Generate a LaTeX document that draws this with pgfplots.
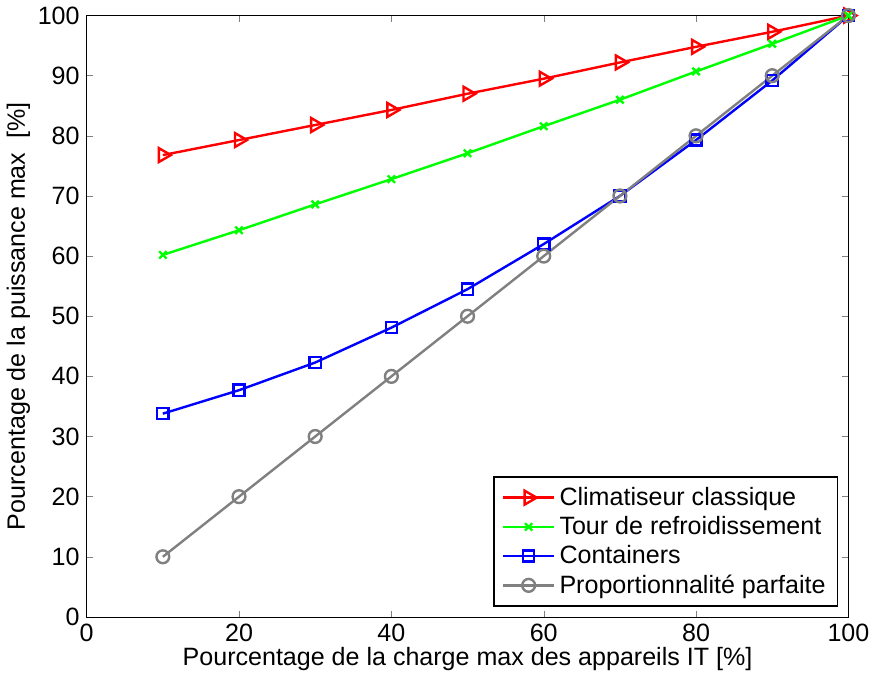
\documentclass[border=0pt]{standalone}
\usepackage{pgfplots}
\pgfplotsset{compat=1.18}
\usepackage{fontspec}
\setmainfont{Liberation Sans}
\begin{document}
\begin{tikzpicture}
\begin{axis}[
  scale only axis,
  width=380pt, height=300pt,
  xmin=0, xmax=100, ymin=0, ymax=100,
  xtick={0,20,...,100}, ytick={0,10,...,100},
  tick align=inside,
  major tick length=3pt,
  /pgf/number format/assume math mode=true,
  tick label style={font=\fontsize{12.5}{14}\selectfont},
  label style={font=\fontsize{12.5}{14}\selectfont},
  xlabel={Pourcentage de la charge max des appareils IT [\%]},
  ylabel={Pourcentage de la puissance max\ \ [\%]},
  xlabel style={yshift=4pt},
  ylabel style={yshift=-3pt},
  legend style={at={(1,0)}, anchor=south east, xshift=-5pt, yshift=5pt, font=\fontsize{12.5}{14}\selectfont, draw=black, line width=0.8pt, cells={anchor=west}, row sep=0pt, inner xsep=4pt, inner ysep=3pt},
  legend image post style={line width=1.2pt},
  legend image code/.code={\draw[mark repeat=2,mark phase=2] plot coordinates {(0cm,0cm) (0.45cm,0cm) (0.9cm,0cm)};},
  legend cell align=left,
  every axis plot/.append style={line width=1.2pt},
]
\addplot[red, mark=triangle, mark options={rotate=-90, scale=2, solid}] coordinates {
(10,76.8)(20,79.3)(30,81.8)(40,84.3)(50,87)(60,89.5)(70,92.2)(80,94.8)(90,97.3)(100,100)};
\addlegendentry{Climatiseur classique}
\addplot[green, mark=x, mark options={scale=1.3}] coordinates {
(10,60.2)(20,64.3)(30,68.6)(40,72.8)(50,77.1)(60,81.6)(70,86)(80,90.7)(90,95.3)(100,100)};
\addlegendentry{Tour de refroidissement}
\addplot[blue, mark=square, mark options={scale=1.4}] coordinates {
(10,33.8)(20,37.7)(30,42.3)(40,48.1)(50,54.5)(60,62)(70,70)(80,79.3)(90,89.2)(100,100)};
\addlegendentry{Containers}
\addplot[gray, mark=o, mark options={scale=1.6}] coordinates {
(10,10)(20,20)(30,30)(40,40)(50,50)(60,60)(70,70)(80,80)(90,90)(100,100)};
\addlegendentry{Proportionnalité parfaite}
\end{axis}
\end{tikzpicture}
\end{document}
